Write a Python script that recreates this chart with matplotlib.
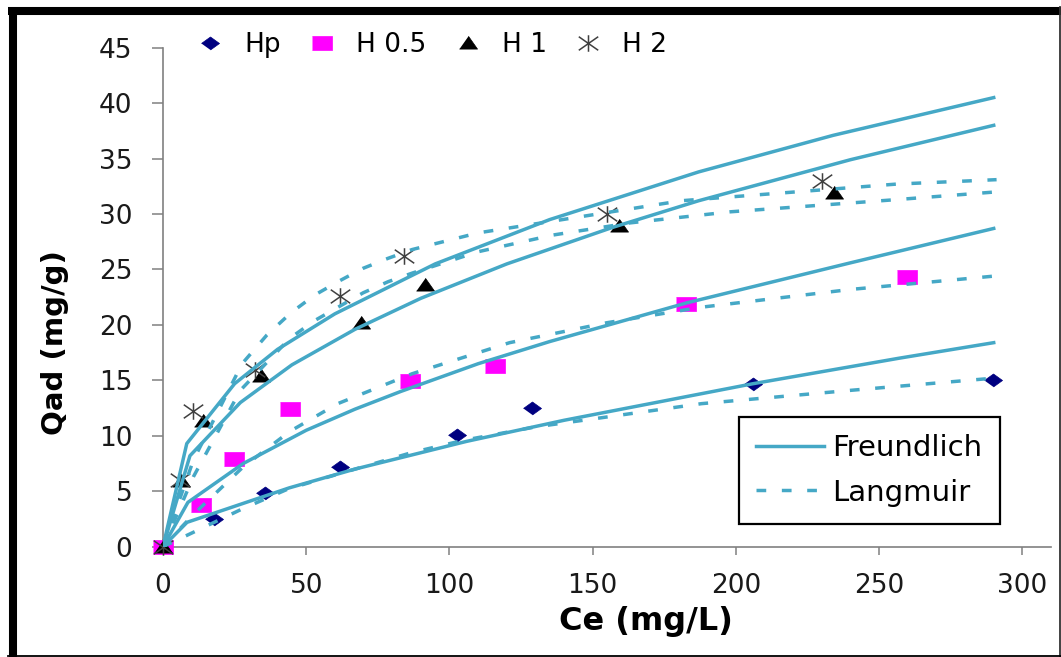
import matplotlib
matplotlib.use("Agg")
import matplotlib.pyplot as plt
from matplotlib.lines import Line2D
from matplotlib.path import Path

plt.rcParams['font.family'] = ['DejaVu Sans']

# measured adsorption points, Ce (mg/L) vs Qad (mg/g)
ce_hp = [0, 17.8, 35.6, 61.8, 102.6, 128.8, 205.9, 289.6]
q_hp = [0, 2.5, 4.8, 7.2, 10.1, 12.5, 14.7, 15.0]
ce_h05 = [0, 13.3, 24.8, 44.3, 86.2, 115.8, 182.5, 259.6]
q_h05 = [0, 3.8, 7.9, 12.4, 14.9, 16.3, 21.9, 24.3]
ce_h1 = [0, 6.3, 14.0, 34.2, 69.1, 91.4, 159.1, 234.1]
q_h1 = [0, 5.9, 11.3, 15.4, 20.2, 23.6, 28.9, 31.9]
ce_h2 = [0, 5.9, 10.5, 32.0, 61.8, 84.0, 155.0, 230.0]
q_h2 = [0, 6.0, 12.2, 15.9, 22.6, 26.2, 30.0, 33.0]

# Freundlich model curves
fr_hp_x = [0, 8.4, 44, 67, 106, 140, 170, 206, 257, 290]
fr_hp_y = [0, 2.2, 5.3, 7.0, 9.5, 11.4, 12.9, 14.7, 17.0, 18.4]
fr_h05_x = [0, 8.7, 28, 50, 67, 83, 110, 135, 183, 240, 290]
fr_h05_y = [0, 4.0, 7.5, 10.5, 12.4, 14.0, 16.5, 18.5, 22.0, 25.6, 28.7]
fr_h1_x = [0, 9.4, 27, 45, 67, 90, 120, 157, 187, 240, 290]
fr_h1_y = [0, 8.2, 13.0, 16.4, 19.6, 22.4, 25.5, 28.8, 31.2, 34.9, 38.0]
fr_h2_x = [0, 8.3, 25, 40, 60, 95, 135, 187, 234, 290]
fr_h2_y = [0, 9.3, 14.7, 17.8, 21.0, 25.5, 29.5, 33.8, 37.1, 40.5]

# Langmuir model curves
la_hp_x = [0, 10.6, 27.6, 43.6, 61.8, 87, 105, 130, 155, 188, 240, 290]
la_hp_y = [0, 1.3, 3.4, 5.2, 6.6, 8.5, 9.6, 10.8, 11.7, 12.9, 14.1, 15.2]
la_h05_x = [0, 10.6, 28, 44.3, 61, 87, 121, 155, 188, 240, 290]
la_h05_y = [0, 2.9, 7.2, 10.4, 12.9, 15.6, 18.4, 20.2, 21.6, 23.2, 24.4]
la_h1_x = [0, 10.6, 27, 44.3, 53, 61.8, 69.9, 78.6, 87.3, 110, 136, 163, 198, 256, 291]
la_h1_y = [0, 6.3, 14.1, 18.8, 20.4, 21.7, 22.9, 23.9, 24.7, 26.6, 28.1, 29.2, 30.2, 31.3, 32.0]
la_h2_x = [0, 10.6, 27.6, 36.3, 44.7, 53, 61.8, 69.8, 78.5, 87, 110, 137, 181, 256, 291]
la_h2_y = [0, 7.8, 16.5, 19.1, 21.1, 22.7, 24.0, 25.1, 26.0, 26.8, 28.3, 29.4, 31.2, 32.7, 33.1]

series_labels = ['Hp', 'H 0.5', 'H 1', 'H 2']
model_labels = ['Freundlich', 'Langmuir']
x_ticks = [0, 50, 100, 150, 200, 250, 300]
y_ticks = [0, 5, 10, 15, 20, 25, 30, 35, 40, 45]

line_color = '#45A8C6'
axis_grey = '#808080'
dash = (0, (2.8, 4.5))

# slightly wide marker shapes
diamond = [(-1, 0), (0, 0.72), (1, 0), (0, -0.72)]
rect = [(-1, -0.72), (1, -0.72), (1, 0.72), (-1, 0.72)]
tri = [(-1, -0.62), (1, -0.62), (0, 0.8)]
star = Path([(0, -0.85), (0, 0.85), (-1, -0.7), (1, 0.7), (-1, 0.7), (1, -0.7)],
            [Path.MOVETO, Path.LINETO] * 3)

styles = [
    dict(marker=diamond, ms=13, mfc='#000080', mec='#000080', mew=0.5),
    dict(marker=rect, ms=14.5, mfc='#FF00FF', mec='#FF00FF', mew=0.5),
    dict(marker=tri, ms=13, mfc='black', mec='black', mew=0.5),
    dict(marker=star, ms=14, mfc='none', mec='#404040', mew=1.1),
]

fig = plt.figure(figsize=(10.61, 6.57), dpi=100)
ax = fig.add_axes([0.15363, 0.16788, 0.83695, 0.75951])

points = [(ce_hp, q_hp), (ce_h05, q_h05), (ce_h1, q_h1), (ce_h2, q_h2)]
for (xs, ys), st in zip(points, styles):
    ax.plot(xs, ys, ls='none', clip_on=False, zorder=3, **st)

for xs, ys in [(fr_hp_x, fr_hp_y), (fr_h05_x, fr_h05_y), (fr_h1_x, fr_h1_y), (fr_h2_x, fr_h2_y)]:
    ax.plot(xs, ys, color=line_color, lw=2.5, solid_joinstyle='round', zorder=4)
for xs, ys in [(la_hp_x, la_hp_y), (la_h05_x, la_h05_y), (la_h1_x, la_h1_y), (la_h2_x, la_h2_y)]:
    ax.plot(xs, ys, color=line_color, lw=2.5, ls=dash, dash_capstyle='butt', zorder=4)

ax.set_xlim(0, 310)
ax.set_ylim(0, 45)
ax.set_xticks(x_ticks)
ax.set_yticks(y_ticks)
for s in ['top', 'right']:
    ax.spines[s].set_visible(False)
for s in ['left', 'bottom']:
    ax.spines[s].set_color(axis_grey)
    ax.spines[s].set_linewidth(1.2)
ax.tick_params(axis='y', direction='out', length=8, width=1.1, color=axis_grey,
               pad=14, labelsize=19, labelcolor='#1a1a1a')
ax.tick_params(axis='x', direction='out', length=6, width=1.1, color=axis_grey,
               pad=13, labelsize=19, labelcolor='#1a1a1a')

ax.set_xlabel('Ce (mg/L)', fontsize=23, fontweight='bold')
ax.xaxis.set_label_coords(0.544, -0.118)
ax.set_ylabel('Qad (mg/g)', fontsize=21, fontweight='bold')
ax.yaxis.set_label_coords(-0.106, 0.41)

# marker legend along the top
mk_handles = [Line2D([], [], ls='none', **st) for st in styles]
leg1 = ax.legend(mk_handles, series_labels, loc='center left', ncol=4,
                 bbox_to_anchor=(0.1857, 0.9315), bbox_transform=fig.transFigure,
                 frameon=False, fontsize=19, handlelength=1.0, handletextpad=0.8,
                 columnspacing=1.05, borderpad=0, borderaxespad=0, numpoints=1)
ax.add_artist(leg1)

# model legend
ln_handles = [Line2D([], [], color=line_color, lw=2.5),
              Line2D([], [], color=line_color, lw=2.5, ls=dash)]
leg2 = ax.legend(ln_handles, model_labels, loc='upper left',
                 bbox_to_anchor=(0.6965, 0.3653), bbox_transform=fig.transFigure,
                 fontsize=21, handlelength=2.3, handletextpad=0.3, labelspacing=0.55,
                 borderpad=0.6, borderaxespad=0, fancybox=False, framealpha=1,
                 edgecolor='black')
leg2.get_frame().set_linewidth(1.6)

# outer frame: heavy top/left, thin right/bottom
fig.add_artist(Line2D([8 / 1061, 1], [1 - 11 / 657] * 2, transform=fig.transFigure,
                      color='black', lw=5.8, solid_capstyle='butt'))
fig.add_artist(Line2D([12.5 / 1061] * 2, [1 - 7 / 657, 0], transform=fig.transFigure,
                      color='black', lw=5.8, solid_capstyle='butt'))
fig.add_artist(Line2D([1060 / 1061] * 2, [1 - 7 / 657, 0], transform=fig.transFigure,
                      color='#333333', lw=1.3))
fig.add_artist(Line2D([8 / 1061, 1], [1 - 655.5 / 657] * 2, transform=fig.transFigure,
                      color='black', lw=1.3))

fig.savefig('out.png', dpi=100)
